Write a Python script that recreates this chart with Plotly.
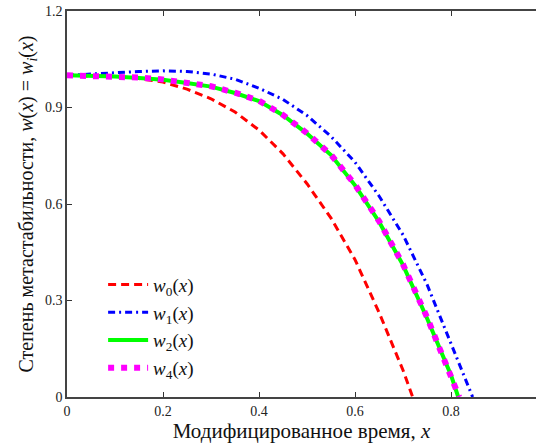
import plotly.graph_objects as go

x0 = [0, 0.05, 0.1, 0.15, 0.2, 0.25, 0.3, 0.35, 0.4, 0.45, 0.5, 0.55, 0.6, 0.65, 0.7, 0.72]
w0 = [1.0, 0.999, 0.996, 0.990, 0.979, 0.957, 0.927, 0.886, 0.830, 0.756, 0.663, 0.556, 0.427, 0.263, 0.083, 0.0]

x1 = [0, 0.05, 0.1, 0.15, 0.2, 0.25, 0.3, 0.35, 0.4, 0.45, 0.5, 0.55, 0.6, 0.65, 0.7, 0.75, 0.8, 0.845]
w1 = [1.0, 1.003, 1.008, 1.012, 1.014, 1.012, 1.004, 0.988, 0.960, 0.925, 0.875, 0.810, 0.730, 0.625, 0.504, 0.350, 0.165, 0.0]

x2 = [0, 0.05, 0.1, 0.15, 0.2, 0.25, 0.3, 0.35, 0.4, 0.45, 0.5, 0.55, 0.6, 0.65, 0.7, 0.75, 0.8, 0.815]
w2 = [1.0, 0.999, 0.996, 0.992, 0.986, 0.976, 0.965, 0.945, 0.920, 0.876, 0.819, 0.752, 0.658, 0.545, 0.410, 0.245, 0.068, 0.0]

x4 = [0, 0.05, 0.1, 0.15, 0.2, 0.25, 0.3, 0.35, 0.4, 0.45, 0.5, 0.55, 0.6, 0.65, 0.7, 0.75, 0.8, 0.817]
w4 = [1.0, 0.999, 0.997, 0.993, 0.987, 0.977, 0.966, 0.946, 0.921, 0.877, 0.820, 0.753, 0.660, 0.547, 0.412, 0.248, 0.070, 0.0]

xticks = [0, 0.2, 0.4, 0.6, 0.8]
yticks = [0, 0.3, 0.6, 0.9, 1.2]

legend_names = ["<i>w</i><sub>0</sub>(<i>x</i>)", "<i>w</i><sub>1</sub>(<i>x</i>)",
                "<i>w</i><sub>2</sub>(<i>x</i>)", "<i>w</i><sub>4</sub>(<i>x</i>)"]

SERIF = "Liberation Serif"

fig = go.Figure()
fig.add_trace(go.Scatter(x=x0, y=w0, mode="lines", name=legend_names[0],
                         line=dict(color="#ff0000", width=3, dash="8px,5px")))
fig.add_trace(go.Scatter(x=x1, y=w1, mode="lines", name=legend_names[1],
                         line=dict(color="#0000ff", width=3, dash="7px,4px,2px,4px")))
fig.add_trace(go.Scatter(x=x2, y=w2, mode="lines", name=legend_names[2],
                         line=dict(color="#00ff00", width=4)))
fig.add_trace(go.Scatter(x=x4, y=w4, mode="lines", name=legend_names[3],
                         line=dict(color="#ff00ff", width=6, dash="6px,7px")))

axis_font = dict(family=SERIF, size=14, color="#222")
fig.update_layout(
    width=536, height=443,
    margin=dict(l=67, r=0, t=11, b=46),
    paper_bgcolor="white", plot_bgcolor="white",
    font=dict(family=SERIF, color="#111"),
    xaxis=dict(range=[0, 0.977], tickvals=xticks, ticktext=["0", "0.2", "0.4", "0.6", "0.8"],
               ticks="inside", ticklen=5, tickcolor="#333", showline=True, linecolor="#444",
               linewidth=1.5, mirror="ticks", showgrid=False, zeroline=False,
               tickfont=axis_font,
               title=dict(text="Модифицированное время, <i>x</i>",
                          font=dict(family=SERIF, size=21, color="#111"), standoff=2)),
    yaxis=dict(range=[0, 1.2], tickvals=yticks, ticktext=["0", "0.3", "0.6", "0.9", "1.2"],
               ticks="inside", ticklen=5, tickcolor="#333", showline=True, linecolor="#444",
               linewidth=1.5, mirror=False, showgrid=False, zeroline=False,
               tickfont=axis_font,
               title=dict(text="Степень метастабильности, <i>w</i>(<i>x</i>) = <i>w<sub>i</sub></i>(<i>x</i>)",
                          font=dict(family=SERIF, size=20, color="#111"), standoff=6)),
    legend=dict(x=0.077, y=0.34, xanchor="left", yanchor="top", bgcolor="rgba(0,0,0,0)",
                font=dict(family=SERIF, size=19, color="#111"), itemwidth=40),
    showlegend=True,
)

fig.write_html("out.html")
